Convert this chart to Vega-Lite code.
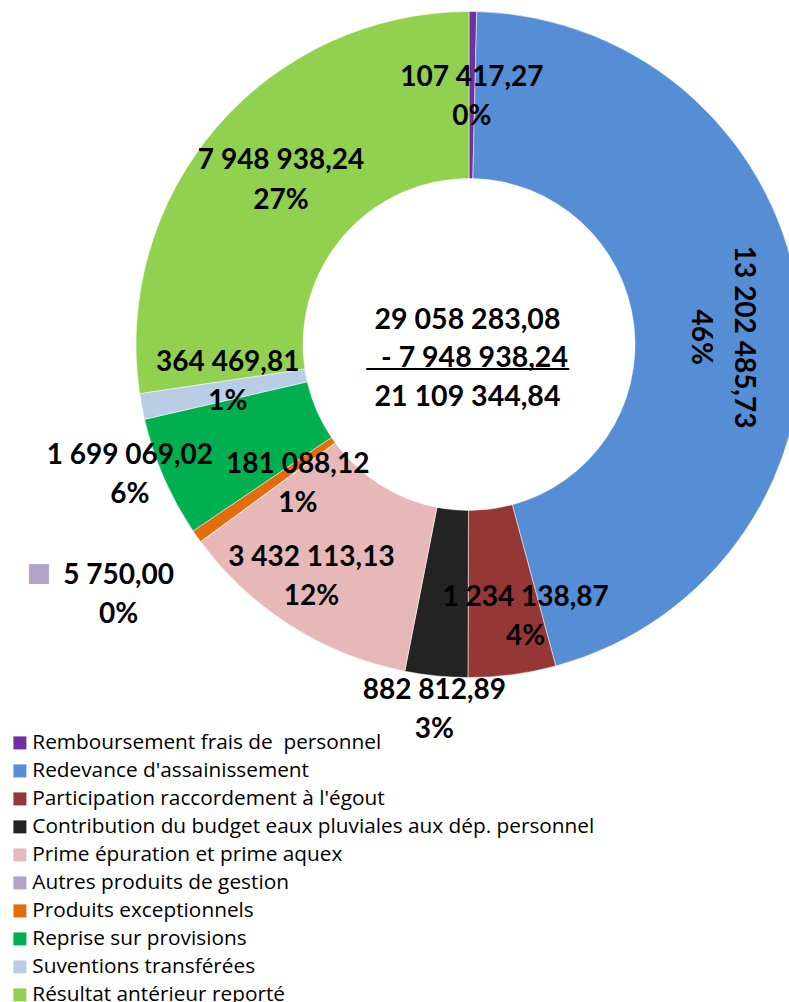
{
  "$schema": "https://vega.github.io/schema/vega-lite/v6.json",
  "width": 636,
  "height": 689,
  "autosize": "none",
  "padding": {"left": 151, "top": 0, "right": 2, "bottom": 313},
  "background": "white",
  "config": {
    "view": {"stroke": null},
    "locale": {"number": {"decimal": ",", "thousands": " ", "grouping": [3], "currency": ["", " €"]}}
  },
  "data": {
    "values": [
      {"category": "Remboursement frais de\u00a0 personnel", "value": 107417.27, "pct": 0},
      {"category": "Redevance d'assainissement", "value": 13202485.73, "pct": 0.46},
      {"category": "Participation raccordement à l'égout", "value": 1234138.87, "pct": 0.04},
      {"category": "Contribution du budget eaux pluviales aux dép. personnel", "value": 882812.89, "pct": 0.03},
      {"category": "Prime épuration et prime aquex", "value": 3432113.13, "pct": 0.12},
      {"category": "Autres produits de gestion", "value": 5750.00, "pct": 0},
      {"category": "Produits exceptionnels", "value": 181088.12, "pct": 0.01},
      {"category": "Reprise sur provisions", "value": 1699069.02, "pct": 0.06},
      {"category": "Suventions transférées", "value": 364469.81, "pct": 0.01},
      {"category": "Résultat antérieur reporté", "value": 7948938.24, "pct": 0.27}
    ]
  },
  "transform": [
    {"window": [{"op": "sum", "field": "value", "as": "cum"}, {"op": "row_number", "as": "idx"}], "frame": [null, 0], "ignorePeers": true},
    {"calculate": "datum.cum - datum.value", "as": "start"},
    {"calculate": "datum.cum - datum.value / 2", "as": "mid"},
    {"calculate": "[format(datum.value, ',.2f'), format(datum.pct, '.0%')]", "as": "lines"}
  ],
  "layer": [
    {
      "mark": {"type": "arc", "innerRadius": 166, "outerRadius": 333, "stroke": "white", "strokeWidth": 0.5},
      "encoding": {
        "theta": {"field": "cum", "type": "quantitative", "scale": {"zero": true, "nice": false}},
        "theta2": {"field": "start"},
        "color": {
          "field": "category",
          "type": "nominal",
          "scale": {
            "domain": [
              "Remboursement frais de\u00a0 personnel",
              "Redevance d'assainissement",
              "Participation raccordement à l'égout",
              "Contribution du budget eaux pluviales aux dép. personnel",
              "Prime épuration et prime aquex",
              "Autres produits de gestion",
              "Produits exceptionnels",
              "Reprise sur provisions",
              "Suventions transférées",
              "Résultat antérieur reporté"
            ],
            "range": ["#7030A0", "#558ED5", "#953735", "#232323", "#E6B9B8", "#B3A2C7", "#E46C0A", "#00B050", "#B9CDE5", "#92D050"]
          },
          "legend": {
            "orient": "none",
            "legendX": -141.5,
            "legendY": 732.5,
            "title": null,
            "padding": 0,
            "symbolType": "square",
            "symbolSize": 169,
            "symbolStrokeWidth": 0,
            "symbolOpacity": 1,
            "labelFont": "Open Sans",
            "labelFontSize": 20.8,
            "labelColor": "#000000",
            "labelOffset": 2,
            "labelLimit": 0,
            "rowPadding": 6.0
          }
        }
      }
    },
    {
      "transform": [{"filter": "datum.idx == 1"}],
      "mark": {"type": "text", "radius": 247.5, "thetaOffset": 0, "dy": -19.5, "font": "Lato", "fontWeight": "bold", "fontSize": 28, "lineHeight": 39, "baseline": "middle", "align": "center", "color": "#000000"},
      "encoding": {"theta": {"field": "mid", "type": "quantitative"}, "text": {"field": "lines", "type": "nominal"}}
    },
    {
      "transform": [{"filter": "datum.idx == 2"}],
      "mark": {"type": "text", "radius": 252.6, "thetaOffset": 0.091, "angle": 90, "dy": -21.5, "font": "Lato", "fontWeight": "bold", "fontSize": 28, "lineHeight": 43, "baseline": "middle", "align": "center", "color": "#000000"},
      "encoding": {"theta": {"field": "mid", "type": "quantitative"}, "text": {"field": "lines", "type": "nominal"}}
    },
    {
      "transform": [{"filter": "datum.idx == 3"}],
      "mark": {"type": "text", "radius": 279, "thetaOffset": -0.074, "dy": -19.5, "font": "Lato", "fontWeight": "bold", "fontSize": 28, "lineHeight": 39, "baseline": "middle", "align": "center", "color": "#000000"},
      "encoding": {"theta": {"field": "mid", "type": "quantitative"}, "text": {"field": "lines", "type": "nominal"}}
    },
    {
      "transform": [{"filter": "datum.idx == 4"}],
      "mark": {"type": "text", "radius": 366, "thetaOffset": -0.004, "dy": -18, "font": "Lato", "fontWeight": "bold", "fontSize": 28, "lineHeight": 39, "baseline": "middle", "align": "center", "color": "#000000"},
      "encoding": {"theta": {"field": "mid", "type": "quantitative"}, "text": {"field": "lines", "type": "nominal"}}
    },
    {
      "transform": [{"filter": "datum.idx == 5"}],
      "mark": {"type": "text", "radius": 281, "thetaOffset": 0.03, "dy": -19, "font": "Lato", "fontWeight": "bold", "fontSize": 28, "lineHeight": 39, "baseline": "middle", "align": "center", "color": "#000000"},
      "encoding": {"theta": {"field": "mid", "type": "quantitative"}, "text": {"field": "lines", "type": "nominal"}}
    },
    {
      "transform": [{"filter": "datum.idx == 6"}],
      "mark": {"type": "text", "radius": 430, "thetaOffset": 0.016, "dy": -18, "font": "Lato", "fontWeight": "bold", "fontSize": 28, "lineHeight": 39, "baseline": "middle", "align": "center", "color": "#000000"},
      "encoding": {"theta": {"field": "mid", "type": "quantitative"}, "text": {"field": "lines", "type": "nominal"}}
    },
    {
      "transform": [{"filter": "datum.idx == 6"}],
      "mark": {"type": "text", "radius": 430, "thetaOffset": 0.016, "dx": -79.5, "dy": -20.5, "text": "■", "font": "DejaVu Sans", "fontSize": 26, "baseline": "middle", "align": "center", "color": "#B3A2C7"},
      "encoding": {"theta": {"field": "mid", "type": "quantitative"}}
    },
    {
      "transform": [{"filter": "datum.idx == 7"}],
      "mark": {"type": "text", "radius": 220, "thetaOffset": -0.065, "dy": -18, "font": "Lato", "fontWeight": "bold", "fontSize": 28, "lineHeight": 39, "baseline": "middle", "align": "center", "color": "#000000"},
      "encoding": {"theta": {"field": "mid", "type": "quantitative"}, "text": {"field": "lines", "type": "nominal"}}
    },
    {
      "transform": [{"filter": "datum.idx == 8"}],
      "mark": {"type": "text", "radius": 363, "thetaOffset": 0.046, "dy": -17.5, "font": "Lato", "fontWeight": "bold", "fontSize": 28, "lineHeight": 39, "baseline": "middle", "align": "center", "color": "#000000"},
      "encoding": {"theta": {"field": "mid", "type": "quantitative"}, "text": {"field": "lines", "type": "nominal"}}
    },
    {
      "transform": [{"filter": "datum.idx == 9"}],
      "mark": {"type": "text", "radius": 244, "thetaOffset": 0.037, "dy": -18, "font": "Lato", "fontWeight": "bold", "fontSize": 28, "lineHeight": 39, "baseline": "middle", "align": "center", "color": "#000000"},
      "encoding": {"theta": {"field": "mid", "type": "quantitative"}, "text": {"field": "lines", "type": "nominal"}}
    },
    {
      "transform": [{"filter": "datum.idx == 10"}],
      "mark": {"type": "text", "radius": 249.5, "thetaOffset": 0.006, "dy": -19, "font": "Lato", "fontWeight": "bold", "fontSize": 28, "lineHeight": 40, "baseline": "middle", "align": "center", "color": "#000000"},
      "encoding": {"theta": {"field": "mid", "type": "quantitative"}, "text": {"field": "lines", "type": "nominal"}}
    },
    {
      "transform": [
        {"aggregate": [{"op": "sum", "field": "value", "as": "total"}],
         "groupby": []},
        {"calculate": "format(datum.total, ',.2f')", "as": "line1"}
      ],
      "mark": {"type": "text", "dx": -1.5, "dy": -25, "font": "Lato", "fontWeight": "bold", "fontSize": 28.5, "baseline": "middle", "align": "center", "color": "#000000"},
      "encoding": {"text": {"field": "line1", "type": "nominal"}}
    },
    {
      "transform": [
        {"filter": "datum.category === 'Résultat antérieur reporté'"},
        {"calculate": "'- ' + format(datum.value, ',.2f')", "as": "sub"}
      ],
      "mark": {"type": "text", "dx": 5.5, "dy": 13, "font": "Lato", "fontWeight": "bold", "fontSize": 28.5, "baseline": "middle", "align": "center", "color": "#000000"},
      "encoding": {"text": {"field": "sub", "type": "nominal"}}
    },
    {
      "transform": [
        {"calculate": "datum.category === 'Résultat antérieur reporté' ? 0 : datum.value", "as": "net"},
        {"aggregate": [{"op": "sum", "field": "net", "as": "nettotal"}]},
        {"calculate": "format(datum.nettotal, ',.2f')", "as": "line3"}
      ],
      "mark": {"type": "text", "dx": -1.5, "dy": 52, "font": "Lato", "fontWeight": "bold", "fontSize": 28.5, "baseline": "middle", "align": "center", "color": "#000000"},
      "encoding": {"text": {"field": "line3", "type": "nominal"}}
    },
    {
      "transform": [{"aggregate": [{"op": "count", "as": "n"}]}],
      "mark": {"type": "text", "text": "──────────────", "dx": -1.5, "dy": 25, "font": "DejaVu Sans Mono", "fontSize": 24, "baseline": "middle", "align": "center", "color": "#000000"},
      "encoding": {}
    }
  ]
}
